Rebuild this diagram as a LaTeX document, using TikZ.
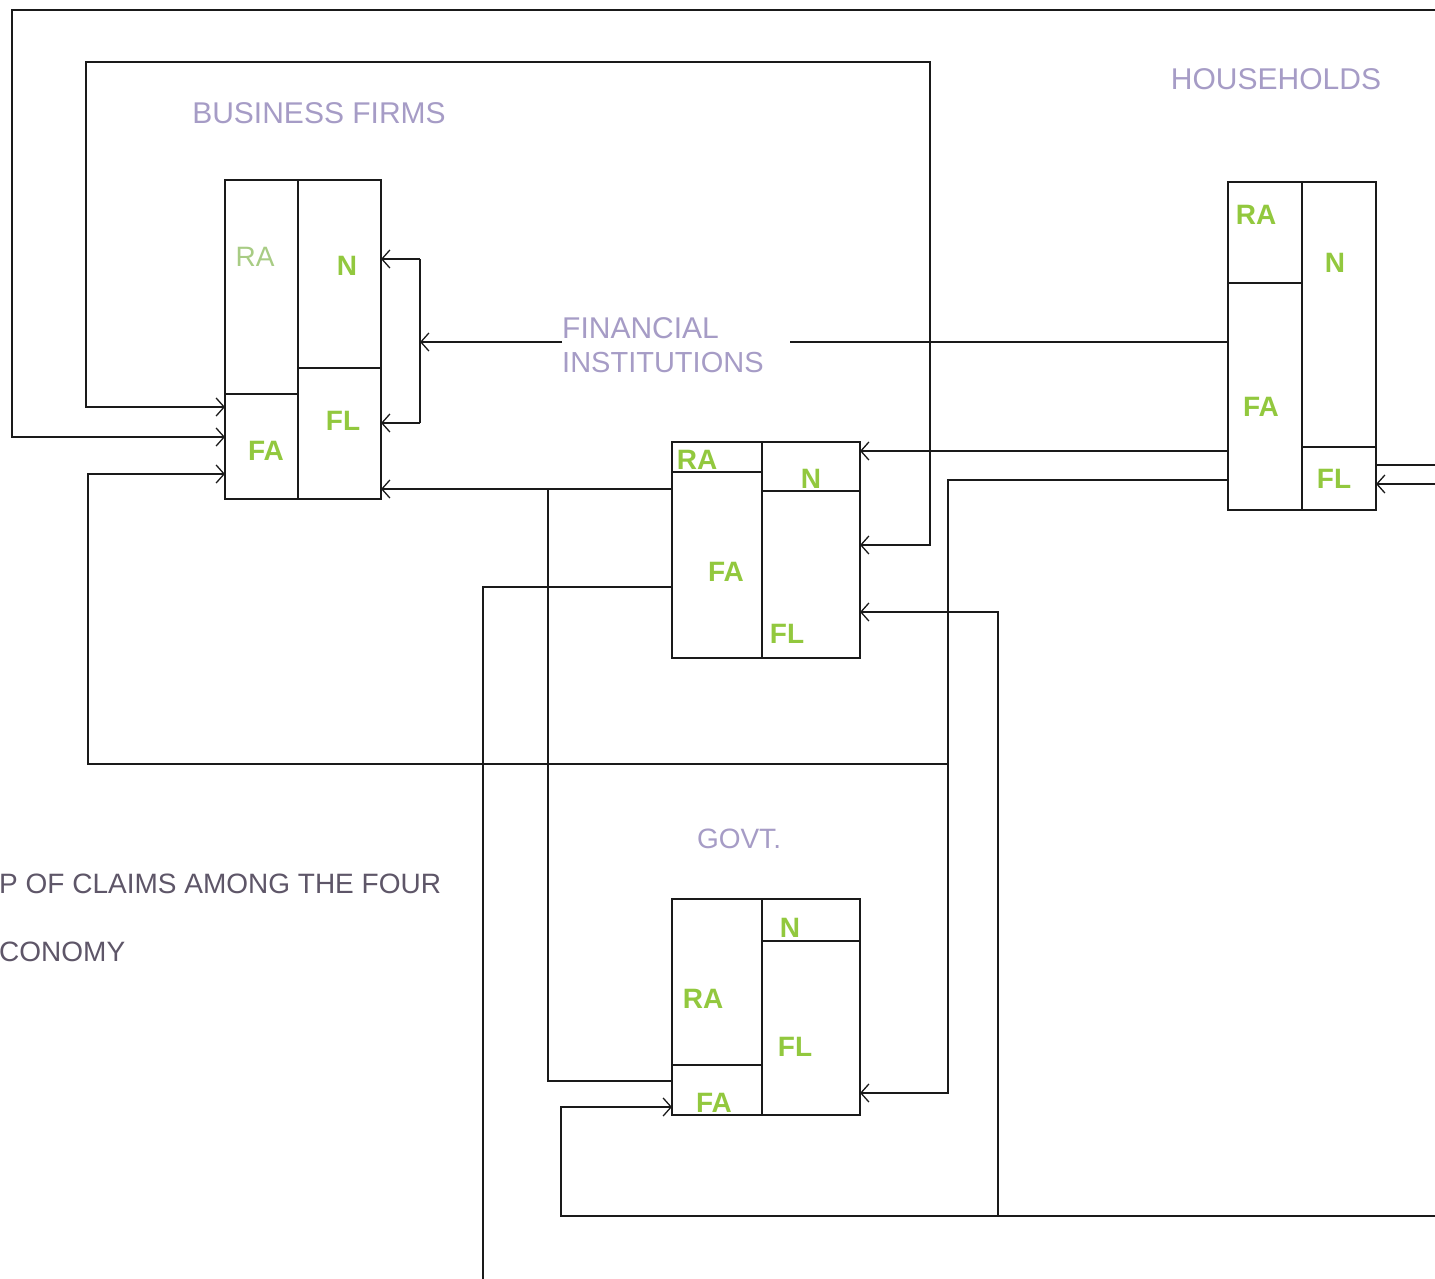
\documentclass[tikz,border=0pt]{standalone}
\usepackage{fontspec}
\setmainfont{Liberation Sans}
\usetikzlibrary{arrows.meta}
\definecolor{linec}{HTML}{1A1A1A}
\definecolor{labg}{HTML}{92C83E}
\definecolor{labl}{HTML}{A8CC84}
\definecolor{headc}{HTML}{A69CC6}
\definecolor{capc}{HTML}{5E5668}
\tikzset{
  cell/.style={draw=linec, line width=2pt, inner sep=0pt, outer sep=0pt, anchor=north west},
  conn/.style={draw=linec, line width=2pt},
  tip/.tip={Straight Barb[length=8pt,width=18pt,line width=1.3pt]},
  hd/.style={font=\fontsize{30}{35}\selectfont, text=headc, inner sep=0pt},
  captxt/.style={font=\fontsize{28}{32}\selectfont, text=capc, inner sep=0pt, anchor=west},
  lab/.style={font=\bfseries\fontsize{28}{32}\selectfont, text=labg, inner sep=0pt},
  labthin/.style={font=\fontsize{28}{32}\selectfont, text=labl, inner sep=0pt}
}
\begin{document}
\begin{tikzpicture}[x=1pt,y=-1pt]
\fill[white] (0,0) rectangle (1435,1279);
\useasboundingbox (0,0) rectangle (1435,1279);

% ---------- BUSINESS FIRMS ----------
\node[cell, minimum width=73pt, minimum height=214pt] (bfRA) at (225,180) {};
\node[cell, minimum width=73pt, minimum height=105pt] (bfFA) at (225,394) {};
\node[cell, minimum width=83pt, minimum height=188pt] (bfN)  at (298,180) {};
\node[cell, minimum width=83pt, minimum height=131pt] (bfFL) at (298,368) {};
\node[labthin] (tbfRA) at (255,257) {RA};
\node[lab] (tbfN)  at (347,266) {N};
\node[lab] (tbfFL) at (343,421) {FL};
\node[lab] (tbfFA) at (266,451) {FA};
\node[hd] (hbf) at (319,113) {BUSINESS FIRMS};

% ---------- HOUSEHOLDS ----------
\node[cell, minimum width=74pt, minimum height=101pt] (hhRA) at (1228,182) {};
\node[cell, minimum width=74pt, minimum height=227pt] (hhFA) at (1228,283) {};
\node[cell, minimum width=74pt, minimum height=265pt] (hhN)  at (1302,182) {};
\node[cell, minimum width=74pt, minimum height=63pt]  (hhFL) at (1302,447) {};
\node[lab] (thhRA) at (1256,215) {RA};
\node[lab] (thhN)  at (1335,263) {N};
\node[lab] (thhFA) at (1261,407) {FA};
\node[lab] (thhFL) at (1334,479) {FL};
\node[hd] (hhh) at (1276,79) {HOUSEHOLDS};

% ---------- FINANCIAL INSTITUTIONS ----------
\node[cell, minimum width=90pt, minimum height=30pt]  (fiRA) at (672,442) {};
\node[cell, minimum width=90pt, minimum height=186pt] (fiFA) at (672,472) {};
\node[cell, minimum width=98pt, minimum height=49pt]  (fiN)  at (762,442) {};
\node[cell, minimum width=98pt, minimum height=167pt] (fiFL) at (762,491) {};
\node[lab] (tfiRA) at (697,460) {RA};
\node[lab] (tfiN)  at (811,479) {N};
\node[lab] (tfiFA) at (726,572) {FA};
\node[lab] (tfiFL) at (787,634) {FL};
\node[hd, anchor=west] (hfi1) at (562,328) {FINANCIAL};
\node[hd, anchor=west, font=\fontsize{29}{35}\selectfont] (hfi2) at (562,363) {INSTITUTIONS};

% ---------- GOVT ----------
\node[cell, minimum width=90pt, minimum height=166pt] (gvRA) at (672,899) {};
\node[cell, minimum width=90pt, minimum height=50pt]  (gvFA) at (672,1065) {};
\node[cell, minimum width=98pt, minimum height=42pt]  (gvN)  at (762,899) {};
\node[cell, minimum width=98pt, minimum height=174pt] (gvFL) at (762,941) {};
\node[lab] (tgvN)  at (790,928) {N};
\node[lab] (tgvRA) at (703,999) {RA};
\node[lab] (tgvFL) at (795,1047) {FL};
\node[lab] (tgvFA) at (714,1103) {FA};
\node[hd, font=\fontsize{28}{33}\selectfont] (hgv) at (739,839) {GOVT.};

% ---------- caption ----------
\node[captxt] (cap1) at (-1,884) {P OF CLAIMS AMONG THE FOUR};
\node[captxt] (cap2) at (-1,952) {CONOMY};

% ---------- connectors ----------
% 1: outer top loop into BF FA
\coordinate (e1) at (1435,10);
\coordinate (c1) at (12,437);
\draw[conn,-tip] (e1) -| (c1) -- (c1 -| bfFA.west);

% 2: FI FL <-> BF FA
\coordinate (r2) at (930,545);
\coordinate (c2) at (86,62);
\coordinate (l2) at (86,407);
\draw[conn,tip-tip] (r2 -| fiFL.east) -- (r2) |- (c2) -- (l2) -- (l2 -| bfFA.west);

% 3: HH FA -> GOVT FL and BF FA
\coordinate (h3) at (948,480);
\coordinate (g3) at (948,1093);
\coordinate (j3) at (948,764);
\coordinate (b3) at (88,474);
\draw[conn,-tip] (h3 -| hhFA.west) -- (h3) -- (g3) -- (g3 -| gvFL.east);
\draw[conn,-tip] (j3) -| (b3) -- (b3 -| bfFA.west);

% 4: HH FA -> FI N
\coordinate (y4) at (0,451);
\draw[conn,-tip] (y4 -| hhFA.west) -- (y4 -| fiN.east);

% 5: HH FA -> BF N and BF FL (through the label)
\coordinate (g5r) at (790,342);
\coordinate (g5l) at (562,342);
\coordinate (v5a) at (420,259);
\coordinate (v5b) at (420,423);
\draw[conn] (g5r -| hhFA.west) -- (g5r);
\draw[conn,-tip] (g5l) -- (g5l -| v5a);
\draw[conn] (v5a) -- (v5b);
\draw[conn,-tip] (v5a) -- (v5a -| bfN.east);
\draw[conn,-tip] (v5b) -- (v5b -| bfFL.east);

% 6: FI FA -> BF FL and GOVT FA
\coordinate (y6) at (548,489);
\coordinate (g6) at (548,1081);
\draw[conn,-tip] (y6 -| fiFA.west) -- (y6 -| bfFL.east);
\draw[conn] (y6) -- (g6) -- (g6 -| gvFA.west);

% 7: FI FA -> down
\coordinate (y7) at (483,587);
\coordinate (b7) at (483,1279);
\draw[conn] (y7 -| fiFA.west) -- (y7) -- (b7);

% 8: bottom line -> GOVT FA and FI FL
\coordinate (e8) at (1435,1216);
\coordinate (c8) at (561,1107);
\coordinate (j8) at (998,1216);
\coordinate (f8) at (998,612);
\draw[conn,-tip] (e8) -| (c8) -- (c8 -| gvFA.west);
\draw[conn,-tip] (j8) -- (f8) -- (f8 -| fiFL.east);

% 9: HH FL right side
\coordinate (e9a) at (1435,465);
\coordinate (e9b) at (1435,484);
\draw[conn] (e9a -| hhFL.east) -- (e9a);
\draw[conn,-tip] (e9b) -- (e9b -| hhFL.east);
\end{tikzpicture}
\end{document}
